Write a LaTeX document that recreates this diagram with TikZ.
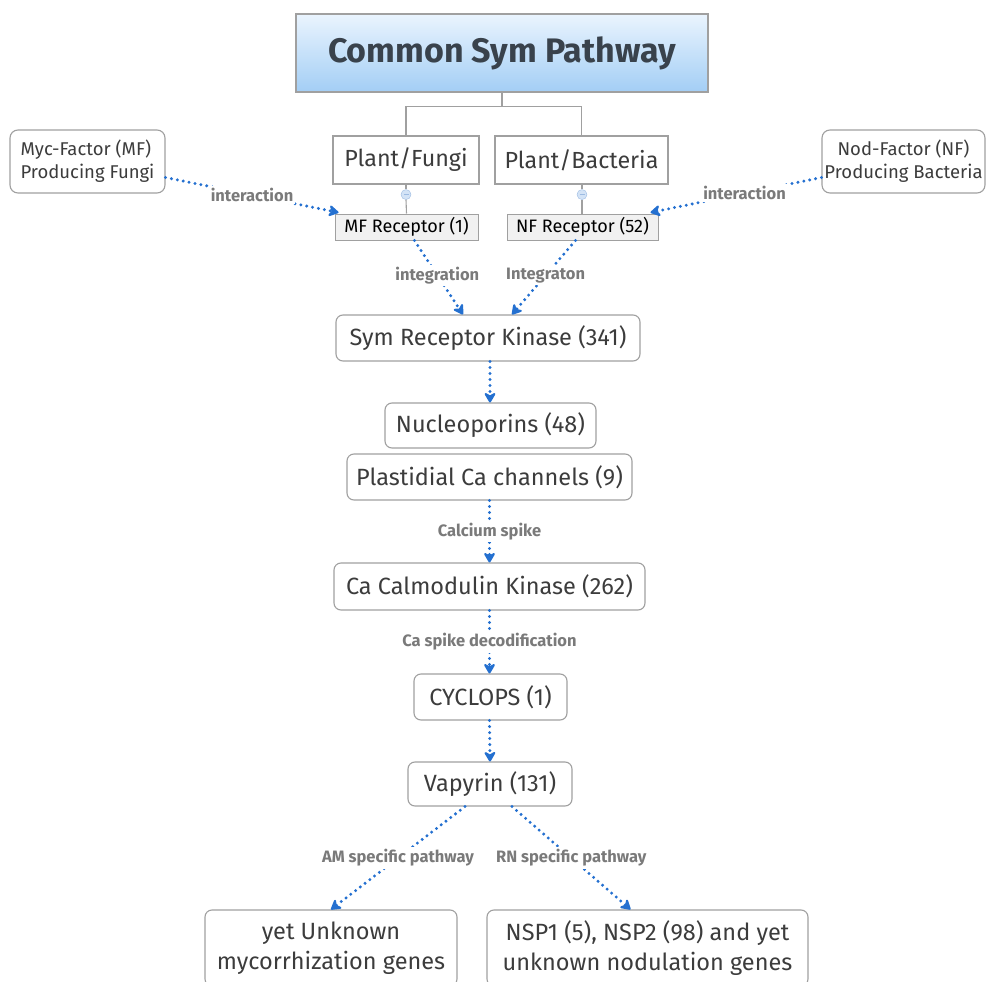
\documentclass[tikz,border=0pt]{standalone}
\usepackage{fontspec}
\setmainfont{Fira Sans}
\usetikzlibrary{arrows.meta,calc}
\definecolor{flowblue}{HTML}{2470D0}
\definecolor{boxgray}{HTML}{A0A0A0}
\definecolor{textgray}{HTML}{3C3C3C}
\definecolor{lblgray}{HTML}{7A7A7A}
\definecolor{titletop}{HTML}{EAF4FE}
\definecolor{titlebot}{HTML}{A3CEF5}
\definecolor{titletext}{HTML}{39424C}
\definecolor{recfill}{HTML}{F1F1F1}
\definecolor{knobfill}{HTML}{D3E3F6}
\definecolor{knobdraw}{HTML}{9DBBE2}
\begin{document}
\begin{tikzpicture}[x=1pt,y=-1pt,
  box/.style={draw=boxgray,line width=1.1pt,rounded corners=7pt,fill=white,inner sep=0pt,
    text=textgray,font=\fontsize{23.5}{30}\selectfont,align=center},
  sqbox/.style={draw=boxgray,line width=1.1pt,fill=white,inner sep=0pt,
    text=textgray,font=\fontsize{23.3}{28}\selectfont,align=center},
  recbox/.style={draw=boxgray,line width=1pt,fill=recfill,inner sep=0pt,
    text=black,font=\fontsize{18}{20}\selectfont,align=center},
  srcbox/.style={draw=boxgray,line width=1.1pt,rounded corners=8pt,fill=white,inner sep=0pt,
    text=textgray,font=\fontsize{18.5}{23}\selectfont},
  tree/.style={draw=boxgray,line width=1.1pt},
  knob/.style={circle,draw=knobdraw,fill=knobfill,minimum size=10pt,inner sep=0pt},
  flow/.style={draw=flowblue,line width=3.3pt,dash pattern=on 0pt off 6pt,line cap=round,
    -{Stealth[length=12pt,width=14pt,round]}},
  lbl/.style={fill=white,text=lblgray,font=\bfseries\fontsize{16.5}{18}\selectfont,inner sep=2pt}]
\useasboundingbox (0,0) rectangle (989,982);
\clip (0,0) rectangle (989,982);

% title
\node[draw=boxgray,line width=1.1pt,top color=titletop,bottom color=titlebot,
  minimum width=412pt,minimum height=78pt,inner sep=0pt,text=titletext,
  font=\bfseries\fontsize{34}{38}\selectfont] (title) at (502,53) {Common Sym Pathway};

% branch boxes
\node[sqbox,minimum width=146pt,minimum height=48pt] (pf) at (406,160) {Plant/Fungi};
\node[sqbox,minimum width=173pt,minimum height=48pt] (pb) at (581.5,160) {Plant/Bacteria};
\node[recbox,minimum width=143pt,minimum height=26pt] (mf) at (406.5,227) {MF Receptor (1)};
\node[recbox,minimum width=151pt,minimum height=26pt] (nf) at (582.5,227) {NF Receptor (52)};

% source boxes
\node[srcbox,minimum width=155pt,minimum height=63pt,align=left] (myc) at (87.5,161.5)
  {Myc-Factor (MF)\\Producing Fungi};
\node[srcbox,minimum width=163pt,minimum height=63pt,align=center] (nod) at (903.5,161.5)
  {Nod-Factor (NF)\\Producing Bacteria};

% chain
\node[box,minimum width=304pt,minimum height=46pt] (sym) at (488,338) {Sym Receptor Kinase (341)};
\node[box,minimum width=211pt,minimum height=45pt] (nuc) at (490.5,425.5) {Nucleoporins (48)};
\node[box,minimum width=285pt,minimum height=46pt] (pla) at (489.5,477) {Plastidial Ca channels (9)};
\node[box,minimum width=311pt,minimum height=47pt] (cam) at (489.5,586.5) {Ca Calmodulin Kinase (262)};
\node[box,minimum width=153pt,minimum height=46pt] (cyc) at (490.5,697) {CYCLOPS (1)};
\node[box,minimum width=164pt,minimum height=44pt] (vap) at (490,784) {Vapyrin (131)};
\node[box,minimum width=252pt,minimum height=76pt] (unk) at (331,948)
  {yet Unknown\\mycorrhization genes};
\node[box,minimum width=321pt,minimum height=76pt] (nsp) at (647.5,948)
  {NSP1 (5), NSP2 (98) and yet\\unknown nodulation genes};

% tree connectors
\coordinate (tj) at ($(title.south)+(0,14)$);
\draw[tree] (title.south) -- (tj);
\draw[tree] (pf.north) |- (tj) -| (pb.north);
\node[knob] (k1) at ($(pf.south)+(0,10)$) {};
\node[knob] (k2) at ($(pb.south)+(0.5,10)$) {};
\draw[tree] (pf.south) -- (k1.north);
\draw[tree] (k1.south) -- (mf.north);
\draw[tree] (pb.south -| k2) -- (k2.north);
\draw[tree] (k2.south) -- (nf.north -| k2);
\draw[knobdraw,line width=0.8pt] ($(k1.center)+(-2.5,0)$) -- ($(k1.center)+(2.5,0)$);
\draw[knobdraw,line width=0.8pt] ($(k2.center)+(-2.5,0)$) -- ($(k2.center)+(2.5,0)$);

% flows
\draw[flow] ($(myc.east)+(0,16)$) -- ($(mf.north west)+(4,-1)$)
  node[lbl,pos=0.5] {interaction};
\draw[flow] ($(nod.west)+(0,16)$) -- ($(nf.north east)+(-8,-1)$)
  node[lbl,pos=0.45] {interaction};
\draw[flow] ($(mf.south)+(8,0)$) -- ($(sym.north)+(-25,0)$)
  node[lbl,pos=0.47] {integration};
\draw[flow] ($(nf.south)+(-7,0)$) -- ($(sym.north)+(24,0)$)
  node[lbl,pos=0.47] {Integraton};
\draw[flow] ($(sym.south)+(2,0)$) -- ($(nuc.north)+(-0.5,0)$);
\draw[flow] (pla.south) -- (cam.north) node[lbl,midway] {Calcium spike};
\draw[flow] (cam.south) -- (cyc.north -| cam.south) node[lbl,midway] {Ca spike decodification};
\draw[flow] ($(cyc.south)+(-1,0)$) -- (vap.north);
\draw[flow] ($(vap.south)+(-25,0)$) -- (unk.north) node[lbl,midway] {AM specific pathway};
\draw[flow] ($(vap.south)+(22,0)$) -- ($(nsp.north)+(-17,0)$) node[lbl,midway] {RN specific pathway};
\end{tikzpicture}
\end{document}
